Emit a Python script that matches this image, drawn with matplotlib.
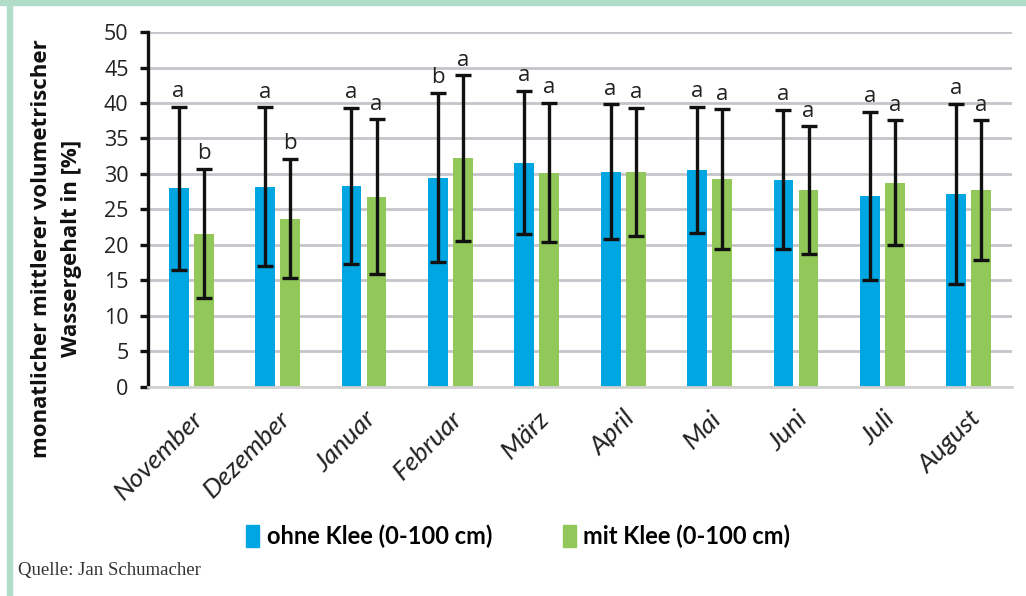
import matplotlib.pyplot as plt
import matplotlib.patches as mpatches
import numpy as np

# Monatlicher mittlerer volumetrischer Wassergehalt (0-100 cm)
months = ["November", "Dezember", "Januar", "Februar", "März",
          "April", "Mai", "Juni", "Juli", "August"]
ohne_klee = [28.0, 28.2, 28.3, 29.5, 31.6, 30.3, 30.6, 29.2, 26.9, 27.2]
ohne_err = [11.5, 11.2, 11.0, 11.9, 10.1, 9.5, 8.9, 9.8, 11.85, 12.7]
mit_klee = [21.6, 23.7, 26.8, 32.2, 30.2, 30.3, 29.3, 27.7, 28.8, 27.7]
mit_err = [9.1, 8.4, 10.9, 11.7, 9.8, 9.0, 9.8, 9.0, 8.75, 9.85]
ohne_sig = ["a", "a", "a", "b", "a", "a", "a", "a", "a", "a"]
mit_sig = ["b", "b", "a", "a", "a", "a", "a", "a", "a", "a"]

blue = "#00a6e1"
green = "#92c75a"
frame = "#b0dcc8"

fig = plt.figure(figsize=(10.26, 5.96), dpi=100)
ax = fig.add_axes([0.1442, 0.3507, 0.8422, 0.5956])

x = np.arange(len(months))
w = 0.23
off = 0.145
ax.bar(x - off, ohne_klee, w, color=blue, zorder=2)
ax.bar(x + off, mit_klee, w, color=green, zorder=2)
ax.errorbar(x - off, ohne_klee, yerr=ohne_err, fmt="none", ecolor="#111111",
            elinewidth=2.4, capsize=6, capthick=2.4, zorder=3)
ax.errorbar(x + off, mit_klee, yerr=mit_err, fmt="none", ecolor="#111111",
            elinewidth=2.4, capsize=6, capthick=2.4, zorder=3)

# Signifikanzbuchstaben über den Fehlerbalken
for i in range(len(months)):
    ax.annotate(ohne_sig[i], (x[i] - off, ohne_klee[i] + ohne_err[i]),
                xytext=(0, 7), textcoords="offset points", ha="center",
                va="baseline", fontsize=16, family="Open Sans", color="#222222")
    ax.annotate(mit_sig[i], (x[i] + off, mit_klee[i] + mit_err[i]),
                xytext=(0, 7), textcoords="offset points", ha="center",
                va="baseline", fontsize=16, family="Open Sans", color="#222222")

ax.set_xlim(-0.5, len(months) - 0.5)
ax.set_ylim(0, 50)
ax.set_yticks(range(0, 51, 5))
ax.yaxis.grid(True, color="#c4c4ca", linewidth=2, zorder=0)
ax.set_axisbelow(True)

for s in ["top", "right"]:
    ax.spines[s].set_visible(False)
ax.spines["bottom"].set_color("#d2d2d2")
ax.spines["bottom"].set_linewidth(2)
ax.spines["left"].set_color("#111111")
ax.spines["left"].set_linewidth(2.4)
ax.tick_params(axis="y", length=6, width=2.4, color="#111111", pad=8,
               labelsize=15.5, labelcolor="#222222")
ax.tick_params(axis="x", length=0, pad=14)
for t in ax.get_yticklabels():
    t.set_family("Open Sans")

ax.set_xticks(x)
ax.set_xticklabels(months, rotation=45, ha="right", rotation_mode="anchor",
                   fontsize=19, family="Lato", style="italic", color="#222222")

ax.set_ylabel("monatlicher mittlerer volumetrischer\nWassergehalt in [%]",
              fontsize=16, family="Open Sans", fontweight="bold",
              color="#111111", linespacing=1.55)
ax.yaxis.set_label_coords(-0.076, 0.39)

# Legende
handles = [mpatches.Patch(color=blue, label="ohne Klee (0-100 cm)"),
           mpatches.Patch(color=green, label="mit Klee (0-100 cm)")]
fig.legend(handles=handles, loc="center", bbox_to_anchor=(0.505, 0.1), ncol=2,
           frameon=False, handlelength=0.55, handleheight=1.1, handletextpad=0.3,
           columnspacing=3.0, prop={"family": "Lato", "weight": "bold", "size": 17})

fig.text(0.018, 0.043, "Quelle: Jan Schumacher", family="Liberation Serif",
         fontsize=13.5, color="#333333", va="center")

# grüner Rahmen oben und links
fig.patches.append(mpatches.Rectangle((0, 1 - 5 / 596), 1, 5 / 596,
                                      transform=fig.transFigure, color=frame))
fig.patches.append(mpatches.Rectangle((7 / 1026, 0), 5 / 1026, 1 - 5 / 596,
                                      transform=fig.transFigure, color=frame))

fig.savefig("out.png", dpi=100)
